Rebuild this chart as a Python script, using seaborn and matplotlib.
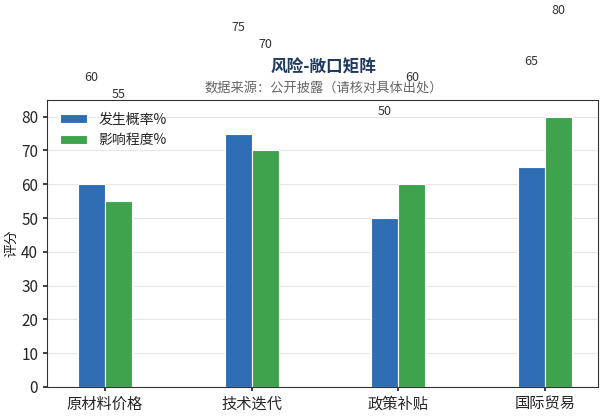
import numpy as np
import pandas as pd
import seaborn as sns
import matplotlib.pyplot as plt

# 数据
categories = ['原材料价格', '技术迭代', '政策补贴', '国际贸易']
prob = [60, 75, 50, 65]
impact = [55, 70, 60, 80]

df = pd.DataFrame({
    '类别': categories * 2,
    '评分': prob + impact,
    '系列': ['发生概率%'] * 4 + ['影响程度%'] * 4,
})

sns.set_theme(style="white")
plt.rcParams['font.family'] = ['Noto Sans CJK SC', 'DejaVu Sans']

fig, ax = plt.subplots(figsize=(6.05, 4.16), dpi=100)
sns.barplot(data=df, x='类别', y='评分', hue='系列', palette=['#2f6db5', '#3fa34d'],
            saturation=1, width=0.37, edgecolor='white', linewidth=0.8, ax=ax)

# 数值标签（偏移到轴上方）
for i, (p, m) in enumerate(zip(prob, impact)):
    ax.text(i - 0.092, p + 31.5, str(p), ha='center', va='center', fontsize=9, color='#333333', clip_on=False)
    ax.text(i + 0.092, m + 31.5, str(m), ha='center', va='center', fontsize=9, color='#333333', clip_on=False)

ax.set_ylim(0, 85)
ax.set_xlim(-0.395, 3.36)
ax.set_yticks(range(0, 81, 10))
ax.yaxis.grid(True, color='#e6e6e6', linewidth=0.8)
ax.set_axisbelow(True)
for s in ax.spines.values():
    s.set_color('#333333')
    s.set_linewidth(0.8)
ax.tick_params(axis='both', labelsize=11, length=3, left=True, bottom=True)
ax.set_xlabel('')
ax.set_ylabel('评分', fontsize=10, labelpad=2)
ax.legend(title=None, loc='upper left', frameon=False, fontsize=10)

fig.text(0.535, 0.825, '风险-敞口矩阵', ha='center', fontsize=12, fontweight='bold', color='#1f3a5f')
fig.text(0.535, 0.78, '数据来源：公开披露（请核对具体出处）', ha='center', fontsize=9.5, color='#666666')

fig.subplots_adjust(left=0.078, right=0.988, bottom=0.07, top=0.76)
fig.savefig('out.png', dpi=100)
